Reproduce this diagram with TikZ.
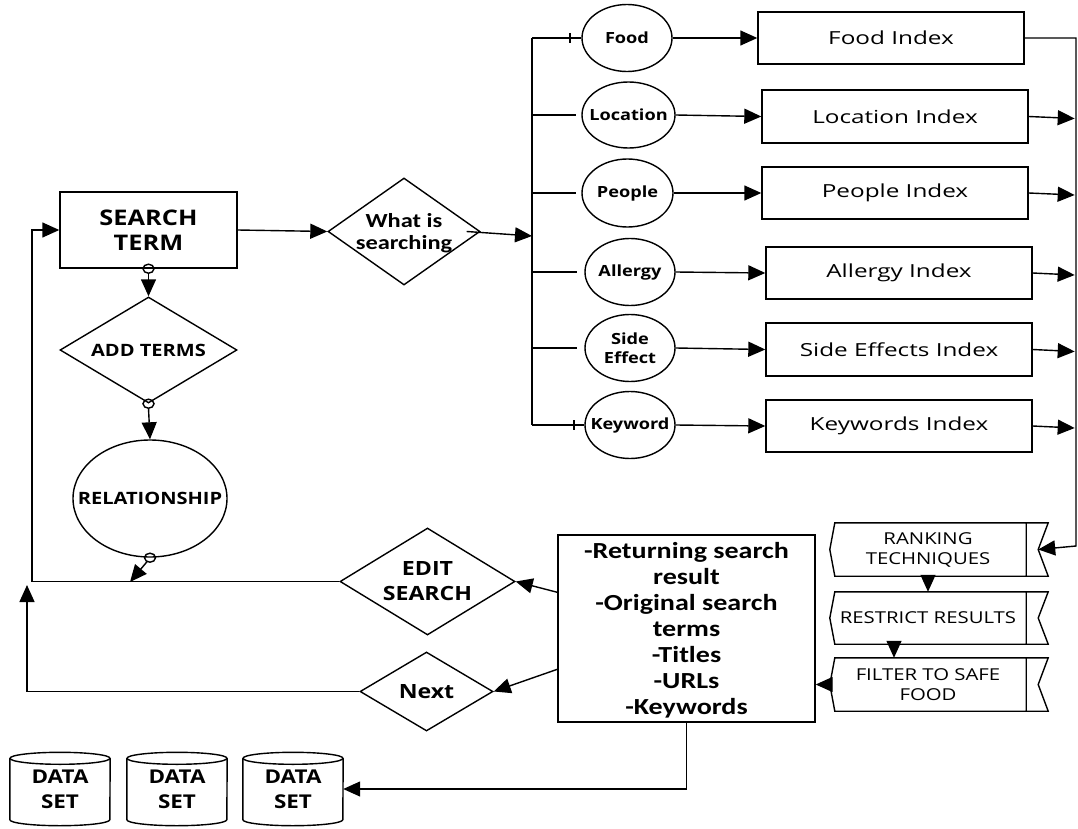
\documentclass[tikz,border=0pt]{standalone}
\usepackage{fontspec}
\usetikzlibrary{shapes.geometric,arrows.meta}
\setmainfont{Open Sans}
\newfontfamily\fA{Open Sans}[FakeStretch=1.18]
\newfontfamily\fB{Open Sans}[FakeStretch=1.35]
\newfontfamily\fC{Open Sans}[FakeStretch=1.24]
\newfontfamily\fD{Carlito}[FakeStretch=1.22]
\tikzset{
  ln/.style={line width=1.4pt},
  arr/.style={ln,-{Triangle[length=17pt,width=15pt]}},
  box/.style={draw,ln,rectangle,inner sep=0pt},
  dia/.style={draw,ln,diamond,inner sep=0pt},
  ell/.style={draw,ln,ellipse,inner sep=0pt},
  lbl/.style={align=center,inner sep=0pt},
  bigb/.style={lbl,font=\fA\bfseries\fontsize{21.5}{25}\selectfont},
  midb/.style={lbl,font=\fA\bfseries\fontsize{17}{20}\selectfont},
  edb/.style={lbl,font=\fA\bfseries\fontsize{19.6}{25}\selectfont},
  smb/.style={lbl,font=\fA\bfseries\fontsize{15.4}{19.5}\selectfont},
  idx/.style={box,font=\fB\fontsize{18}{22}\selectfont},
  flg/.style={lbl,minimum width=196pt,font=\fC\fontsize{16.4}{20}\selectfont},
  cal/.style={lbl,font=\fD\bfseries\fontsize{23}{26}\selectfont},
  dsn/.style={lbl,minimum width=100pt,minimum height=73pt,font=\fA\bfseries\fontsize{19}{25}\selectfont},
}
\newcommand\flagdraw[1]{%
  \draw[ln] ([xshift=5pt]#1.north west) -- ([xshift=22pt]#1.north east) -- ([xshift=12pt]#1.east)
    -- ([xshift=22pt]#1.south east) -- ([xshift=5pt]#1.south west) -- (#1.west) -- cycle
    (#1.north east) -- (#1.south east);}
\newcommand\cyldraw[1]{%
  \draw[ln] ([yshift=-6pt]#1.north west) -- ([yshift=6pt]#1.south west)
    arc[start angle=180,end angle=0,x radius=50,y radius=6] -- ([yshift=-6pt]#1.north east);
  \draw[ln] ([yshift=-6pt]#1.north) ellipse [x radius=50, y radius=6];}
\begin{document}
\begin{tikzpicture}[x=1pt,y=-1pt]
\useasboundingbox (0,0) rectangle (1078,829);
% left column
\node[box,minimum width=177pt,minimum height=76pt] (st) at (148.5,230) {};
\node[bigb] at (st) {SEARCH\\TERM};
\node[dia,minimum width=177pt,minimum height=106pt] (add) at (148.5,350) {};
\node[midb] at (add) {ADD TERMS};
\node[ell,minimum width=154pt,minimum height=117pt] (rel) at (150,498.5) {};
\node[midb] at (rel) {RELATIONSHIP};
% decision
\node[dia,minimum width=152pt,minimum height=107pt] (ws) at (404,231.5) {};
\node[lbl,font=\fD\bfseries\fontsize{20}{22.5}\selectfont] at (404,233) {What is\\searching};
% categories
\coordinate (bt) at (532,38);
\coordinate (bb) at (532,425);
\coordinate (bj) at (532,236);
\node[ell,minimum width=90pt,minimum height=67pt] (food) at (627,38) {};
\node[smb] at (food) {Food};
\node[ell,minimum width=93pt,minimum height=66pt] (loc) at (628.5,115) {};
\node[smb] at (loc) {Location};
\node[ell,minimum width=91pt,minimum height=68pt] (ppl) at (627.5,193) {};
\node[smb] at (ppl) {People};
\node[ell,minimum width=90pt,minimum height=67pt] (alg) at (630,272) {};
\node[smb] at (alg) {Allergy};
\node[ell,minimum width=90pt,minimum height=67pt] (se) at (630,348) {};
\node[smb] at (se) {Side\\Effect};
\node[ell,minimum width=90pt,minimum height=67pt] (kw) at (630,425) {};
\node[smb] at (kw) {Keyword};
% index boxes
\node[idx,minimum width=266pt,minimum height=52pt] (fi) at (891,38) {Food Index};
\node[idx,minimum width=266pt,minimum height=53pt] (li) at (895,116.5) {Location Index};
\node[idx,minimum width=266pt,minimum height=52pt] (pi) at (895,193) {People Index};
\node[idx,minimum width=266pt,minimum height=52pt] (ai) at (899,273) {Allergy Index};
\node[idx,minimum width=266pt,minimum height=53pt] (sei) at (899,349.5) {Side Effects Index};
\node[idx,minimum width=266pt,minimum height=52pt] (ki) at (899,426) {Keywords Index};
% flags
\node[flg,minimum height=53pt] (rk) at (928,549.5) {RANKING\\TECHNIQUES};
\node[flg,minimum height=52pt] (rs) at (928,618) {RESTRICT RESULTS};
\node[flg,minimum height=53pt] (ff) at (928,684.5) {FILTER TO SAFE\\FOOD};
\flagdraw{rk}\flagdraw{rs}\flagdraw{ff}
% result box
\node[box,minimum width=257pt,minimum height=187pt] (res) at (686.5,628.5) {};
\node[cal] at (686.5,630) {-Returning search\\result\\-Original search\\terms\\-Titles\\-URLs\\-Keywords};
\node[dia,minimum width=175pt,minimum height=107pt] (ed) at (427.5,581.5) {};
\node[edb] at (427.5,581.5) {EDIT\\SEARCH};
\node[dia,minimum width=133pt,minimum height=79pt] (nx) at (426.5,691.5) {};
\node[edb] at (nx) {Next};
% data sets
\node[dsn] (ds1) at (60,789) {DATA\\SET};
\node[dsn] (ds2) at (177,789) {DATA\\SET};
\node[dsn] (ds3) at (293,789) {DATA\\SET};
\cyldraw{ds1}\cyldraw{ds2}\cyldraw{ds3}
% connectors left
\draw[ln] (st.south) ellipse [x radius=5.5, y radius=4.5];
\draw[arr] ([yshift=-4.5pt]st.south) -- (add.north);
\draw[ln] (add.south) ellipse [x radius=5.5, y radius=4.5];
\draw[arr] ([yshift=-4.5pt]add.south) -- (rel.north);
\draw[ln] (rel.south) ellipse [x radius=5.5, y radius=4.5];
\coordinate (rt) at (130,582);
\draw[arr] ([xshift=-3pt,yshift=-4pt]rel.south) -- (rt);
\draw[arr] (st.east) -- (ws.west);
\draw[arr] ([xshift=-14pt]ws.east) -- (bj);
\draw[ln] (bt) -- (bb);
% branches
\draw[ln] (bt) -- (food.west);
\draw[ln] (570,33) -- (570,43);
\draw[ln] (532,115) -- ([xshift=-5pt]loc.west);
\draw[ln] (532,193) -- ([xshift=-5pt]ppl.west);
\draw[ln] (532,272) -- ([xshift=-7pt]alg.west);
\draw[ln] (532,348) -- ([xshift=-7pt]se.west);
\draw[ln] (bb) -- (kw.west);
\draw[ln] (574,420) -- (574,430);
\draw[arr] (food.east) -- (fi.west);
\draw[arr] (loc.east) -- (li.west);
\draw[arr] (ppl.east) -- (pi.west);
\draw[arr] (alg.east) -- (ai.west);
\draw[arr] (se.east) -- (sei.west);
\draw[arr] (kw.east) -- (ki.west);
% index right arrows
\draw[arr] (li.east) -- ++(46,2);
\draw[arr] (pi.east) -- ++(46,2);
\draw[arr] (ai.east) -- ++(42,2);
\draw[arr] (sei.east) -- ++(42,2);
\draw[arr] (ki.east) -- ++(42,2);
\draw[arr] (fi.east) -- (1076,38) -- (1076,546) -- ([xshift=12pt]rk.east);
\draw[arr] (rk.south) -- (rs.north);
\draw[arr] ([xshift=-34pt]rs.south) -- ([xshift=-34pt]ff.north);
\draw[arr] (ff.west) -- (res.east |- ff.west);
% result connectors
\draw[arr] ([yshift=-58pt]res.north west) -- (ed.east);
\draw[arr] ([yshift=-135pt]res.north west) -- (nx.east);
\draw[arr] (res.south) |- (ds3.east);
\draw[arr] (ed.west) -- (32,581.5) |- (st.west);
\coordinate (nu) at (27,585);
\draw[arr] (nx.west) -- (27,691.5) -- (nu);
\end{tikzpicture}
\end{document}
